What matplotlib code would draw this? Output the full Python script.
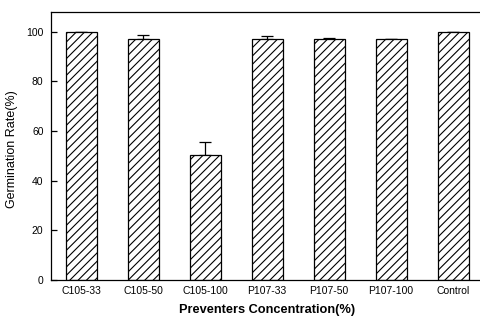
import numpy as np
import matplotlib
matplotlib.use("Agg")
import matplotlib.pyplot as plt

# valores
categorias = ["C105-33", "C105-50", "C105-100", "P107-33", "P107-50", "P107-100", "Control"]
germinacao = [100.0, 97.2, 50.2, 97.0, 97.0, 97.0, 99.8]
erro_sup = [0.0, 1.7, 5.5, 1.2, 0.6, 0.3, 0.0]

plt.rcParams['font.family'] = ['Liberation Sans Narrow', 'Liberation Sans', 'DejaVu Sans']
plt.rcParams['hatch.linewidth'] = 0.8

fig = plt.figure(figsize=(4.8, 3.2), dpi=100)
ax = fig.add_axes([50.5 / 480, 1 - 280 / 320, (484 - 50.5) / 480, (280 - 12) / 320])

x = np.arange(len(categorias))
ax.bar(x, germinacao, width=0.5, color='white', edgecolor='black',
       linewidth=0.9, hatch='////', zorder=2)
ax.errorbar(x, germinacao, yerr=[np.zeros(len(erro_sup)), erro_sup],
            fmt='none', ecolor='black', elinewidth=0.9, capsize=4, capthick=0.9, zorder=1)

ax.set_xlim(-0.5, 6.5)
ax.set_ylim(0, 108)
ax.set_yticks([0, 20, 40, 60, 80, 100])
ax.set_xticks(x)
ax.set_xticklabels(categorias, fontsize=7.5)
ax.tick_params(axis='y', direction='in', length=4, width=0.9, labelsize=7.5, pad=5)
ax.tick_params(axis='x', length=0, pad=4)
for s in ax.spines.values():
    s.set_linewidth(0.9)

# rotulos dos eixos
ax.set_ylabel("Germination Rate(%)", fontsize=9)
ax.yaxis.set_label_coords((18 - 50.5) / 433.5, (280 - 149) / 268)
ax.set_xlabel("Preventers Concentration(%)", fontsize=9.2, fontweight='bold', labelpad=6)

plt.savefig("out.png", dpi=100)
